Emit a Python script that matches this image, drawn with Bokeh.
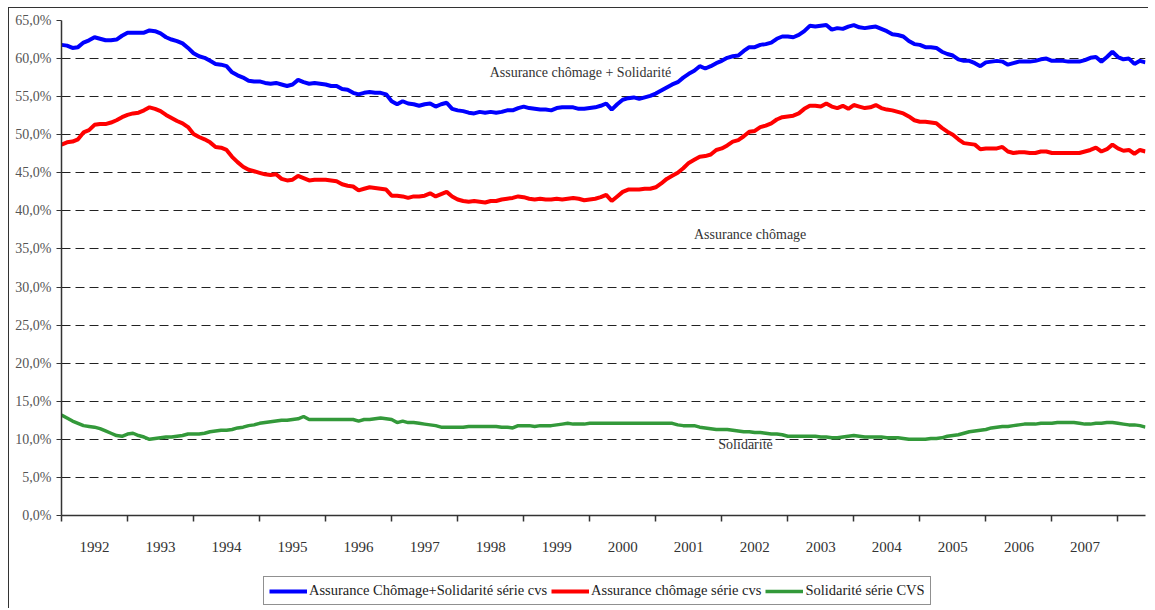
import pandas as pd
from bokeh.plotting import figure
from bokeh.layouts import row, column
from bokeh.models import (Range1d, FixedTicker, CustomJSTickFormatter, Legend,
                          LegendItem, Label, ColumnDataSource, Spacer)
from bokeh.embed import file_html
from bokeh.resources import INLINE

# ---------------- data (monthly, Jan 1992 - Jun 2008) ----------------
months = pd.date_range("1992-01-01", periods=198, freq="MS")

total_cvs = [  # Assurance Chômage + Solidarité série cvs (%)
    61.8, 61.7, 61.4, 61.5, 62.1, 62.4, 62.8, 62.6, 62.4, 62.4, 62.5, 63.0,
    63.4, 63.4, 63.4, 63.4, 63.7, 63.6, 63.3, 62.8, 62.5, 62.3, 62.0, 61.4,
    60.7, 60.3, 60.1, 59.7, 59.3, 59.2, 59.0, 58.2, 57.8, 57.5, 57.1, 57.0,
    57.0, 56.8, 56.7, 56.8, 56.6, 56.4, 56.6, 57.2, 56.9, 56.7, 56.8, 56.7,
    56.6, 56.4, 56.4, 56.0, 55.9, 55.5, 55.3, 55.5, 55.6, 55.5, 55.5, 55.3,
    54.4, 54.0, 54.4, 54.1, 54.0, 53.8, 54.0, 54.1, 53.7, 54.0, 54.2, 53.4,
    53.2, 53.1, 52.9, 52.8, 53.0, 52.9, 53.0, 52.9, 53.0, 53.2, 53.2, 53.5,
    53.7, 53.5, 53.4, 53.3, 53.3, 53.2, 53.5, 53.6, 53.6, 53.6, 53.4, 53.4,
    53.5, 53.6, 53.8, 54.1, 53.3, 54.0, 54.6, 54.8, 54.9, 54.7, 54.9, 55.1,
    55.4, 55.8, 56.2, 56.6, 56.9, 57.5, 58.0, 58.4, 59.0, 58.7, 59.0, 59.4,
    59.7, 60.1, 60.3, 60.4, 61.0, 61.5, 61.5, 61.8, 61.9, 62.1, 62.6, 62.9,
    62.9, 62.8, 63.1, 63.6, 64.3, 64.2, 64.3, 64.4, 63.8, 64.0, 63.9, 64.2,
    64.4, 64.1, 64.0, 64.1, 64.2, 63.9, 63.6, 63.2, 63.1, 62.9, 62.3, 61.9,
    61.8, 61.5, 61.5, 61.4, 60.9, 60.6, 60.4, 59.9, 59.7, 59.7, 59.4, 59.0,
    59.5, 59.6, 59.7, 59.6, 59.2, 59.4, 59.6, 59.6, 59.6, 59.7, 59.9, 60.0,
    59.7, 59.7, 59.7, 59.6, 59.6, 59.6, 59.8, 60.1, 60.2, 59.6, 60.2, 60.9,
    60.2, 59.9, 60.0, 59.3, 59.7, 59.5,
]

ac_cvs = [  # Assurance chômage série cvs (%)
    48.7, 49.0, 49.1, 49.4, 50.3, 50.6, 51.3, 51.4, 51.4, 51.6, 51.9, 52.3,
    52.6, 52.8, 52.9, 53.2, 53.6, 53.4, 53.1, 52.6, 52.2, 51.8, 51.5, 51.0,
    50.1, 49.7, 49.4, 49.0, 48.4, 48.3, 48.0, 47.1, 46.4, 45.8, 45.4, 45.2,
    45.0, 44.8, 44.7, 44.8, 44.2, 44.0, 44.1, 44.6, 44.3, 44.0, 44.1, 44.1,
    44.1, 44.0, 43.9, 43.5, 43.3, 43.2, 42.7, 42.9, 43.1, 43.0, 42.9, 42.8,
    42.0, 42.0, 41.9, 41.7, 41.9, 41.9, 42.0, 42.3, 41.9, 42.2, 42.5, 41.9,
    41.5, 41.3, 41.2, 41.3, 41.2, 41.1, 41.3, 41.3, 41.5, 41.6, 41.7, 41.9,
    41.8, 41.6, 41.5, 41.6, 41.5, 41.5, 41.6, 41.5, 41.6, 41.7, 41.6, 41.4,
    41.5, 41.6, 41.8, 42.1, 41.3, 41.9, 42.5, 42.8, 42.8, 42.8, 42.9, 42.9,
    43.1, 43.6, 44.2, 44.6, 45.0, 45.6, 46.3, 46.7, 47.1, 47.2, 47.4, 48.0,
    48.2, 48.6, 49.1, 49.3, 49.8, 50.4, 50.5, 51.0, 51.2, 51.5, 52.0, 52.3,
    52.4, 52.5, 52.8, 53.4, 53.8, 53.8, 53.7, 54.1, 53.7, 53.5, 53.8, 53.4,
    53.9, 53.7, 53.5, 53.6, 53.9, 53.5, 53.3, 53.2, 53.0, 52.8, 52.4, 51.9,
    51.7, 51.7, 51.6, 51.5, 50.9, 50.4, 50.0, 49.4, 48.9, 48.8, 48.7, 48.1,
    48.2, 48.2, 48.2, 48.4, 47.8, 47.6, 47.7, 47.7, 47.6, 47.6, 47.8, 47.8,
    47.6, 47.6, 47.6, 47.6, 47.6, 47.6, 47.8, 48.0, 48.3, 47.8, 48.1, 48.7,
    48.2, 47.9, 48.0, 47.5, 48.0, 47.8,
]

sol_cvs = [  # Solidarité série CVS (%)
    13.2, 12.8, 12.4, 12.1, 11.8, 11.7, 11.6, 11.4, 11.1, 10.8, 10.5, 10.4,
    10.7, 10.8, 10.5, 10.3, 10.0, 10.1, 10.2, 10.3, 10.3, 10.4, 10.5, 10.7,
    10.7, 10.7, 10.8, 11.0, 11.1, 11.2, 11.2, 11.3, 11.5, 11.6, 11.8, 11.9,
    12.1, 12.2, 12.3, 12.4, 12.5, 12.5, 12.6, 12.7, 13.0, 12.6, 12.6, 12.6,
    12.6, 12.6, 12.6, 12.6, 12.6, 12.6, 12.4, 12.6, 12.6, 12.7, 12.8, 12.7,
    12.6, 12.2, 12.4, 12.2, 12.2, 12.1, 12.0, 11.9, 11.8, 11.6, 11.6, 11.6,
    11.6, 11.6, 11.7, 11.7, 11.7, 11.7, 11.7, 11.7, 11.6, 11.6, 11.5, 11.8,
    11.8, 11.8, 11.7, 11.8, 11.8, 11.8, 11.9, 12.0, 12.1, 12.0, 12.0, 12.0,
    12.1, 12.1, 12.1, 12.1, 12.1, 12.1, 12.1, 12.1, 12.1, 12.1, 12.1, 12.1,
    12.1, 12.1, 12.1, 12.1, 11.9, 11.8, 11.8, 11.8, 11.6, 11.5, 11.4, 11.3,
    11.3, 11.3, 11.2, 11.1, 11.0, 11.0, 10.9, 10.9, 10.8, 10.7, 10.7, 10.6,
    10.4, 10.4, 10.4, 10.4, 10.4, 10.4, 10.3, 10.3, 10.2, 10.2, 10.3, 10.4,
    10.5, 10.4, 10.3, 10.3, 10.3, 10.3, 10.2, 10.2, 10.2, 10.1, 10.0, 10.0,
    10.0, 10.0, 10.1, 10.1, 10.2, 10.4, 10.5, 10.6, 10.8, 11.0, 11.1, 11.2,
    11.3, 11.5, 11.6, 11.7, 11.7, 11.8, 11.9, 12.0, 12.0, 12.0, 12.1, 12.1,
    12.1, 12.2, 12.2, 12.2, 12.2, 12.1, 12.0, 12.0, 12.1, 12.1, 12.2, 12.2,
    12.1, 12.0, 11.9, 11.9, 11.8, 11.6,
]

year_labels = list(range(1992, 2008))
y_ticks = list(range(0, 70, 5))
series_names = ["Assurance Chômage+Solidarité série cvs",
                "Assurance chômage série cvs",
                "Solidarité série CVS"]
series_colors = ["#0000FF", "#FF0000", "#33993A"]
series_widths = [4, 4, 3.5]
annotations = [("Assurance chômage + Solidarité", 1999.86, 58.2),
               ("Assurance chômage", 2002.43, 36.9),
               ("Solidarité", 2002.36, 9.3)]

# ---------------- main figure ----------------
xs = [d.year + (d.month - 1) / 12 for d in months]
src = ColumnDataSource(dict(x=xs, total=total_cvs, ac=ac_cvs, sol=sol_cvs))

SERIF = "Liberation Serif"
W = 1139

p = figure(width=W, height=568, output_backend="svg", toolbar_location=None,
           x_range=Range1d(1992, 1992 + len(months) / 12 - 1 / 12 + 0.001),
           y_range=Range1d(0, 65),
           min_border_left=52, min_border_right=3, min_border_top=12,
           min_border_bottom=61)
p.outline_line_color = None
p.background_fill_color = "white"
p.border_fill_color = "white"

# y axis
p.yaxis.ticker = FixedTicker(ticks=y_ticks)
p.yaxis.formatter = CustomJSTickFormatter(
    code="return tick.toFixed(1).replace('.', ',') + '%';")
p.yaxis.major_tick_out = 5
p.yaxis.major_tick_in = 0
p.yaxis.minor_tick_line_color = None
p.yaxis.axis_line_color = "#333333"
p.yaxis.axis_line_width = 1.5
p.yaxis.major_tick_line_color = "#333333"
p.yaxis.major_label_text_font = SERIF
p.yaxis.major_label_text_font_size = "14px"
p.yaxis.major_label_text_color = "#555555"
p.yaxis.major_label_standoff = 5

# x axis: labels centred in each year, tick marks at year boundaries
p.xaxis.ticker = FixedTicker(ticks=[y + 0.5 for y in year_labels],
                             minor_ticks=list(range(1992, 2009)))
p.xaxis.formatter = CustomJSTickFormatter(code="return Math.floor(tick).toString();")
p.xaxis.major_tick_out = 0
p.xaxis.major_tick_in = 0
p.xaxis.minor_tick_out = 6
p.xaxis.minor_tick_in = 0
p.xaxis.minor_tick_line_color = "#333333"
p.xaxis.minor_tick_line_width = 1.5
p.xaxis.axis_line_color = "#333333"
p.xaxis.axis_line_width = 1.5
p.xaxis.major_label_text_font = SERIF
p.xaxis.major_label_text_font_size = "15px"
p.xaxis.major_label_text_color = "#333333"
p.xaxis.major_label_standoff = 20

# grid
p.xgrid.visible = False
p.ygrid.ticker = FixedTicker(ticks=y_ticks[1:])
p.ygrid.grid_line_color = "#222222"
p.ygrid.grid_line_dash = "9 5"
p.ygrid.grid_line_width = 1

# lines
for col, c, w in zip(["total", "ac", "sol"], series_colors, series_widths):
    p.line("x", col, source=src, line_color=c, line_width=w)

for txt, ax, ay in annotations:
    p.add_layout(Label(x=ax, y=ay, text=txt, text_font=SERIF,
                       text_font_size="14px", text_color="#333333",
                       text_align="center", text_baseline="middle"))

# ---------------- legend strip (own small figure) ----------------
lf = figure(width=W, height=32, output_backend="svg", toolbar_location=None,
            x_range=Range1d(0, 1), y_range=Range1d(0, 1), min_border=0)
lf.axis.visible = False
lf.grid.visible = False
lf.outline_line_color = None
lf.background_fill_color = "white"
lf.border_fill_color = "white"
items = []
for name, c, w in zip(series_names, series_colors, series_widths):
    # legend swatches only: the segment lies outside the visible range
    r = lf.line(x=[10, 11], y=[10, 11], line_color=c, line_width=w)
    items.append(LegendItem(label=name, renderers=[r]))

legend = Legend(items=items, orientation="horizontal", location=(202, 3))
legend.border_line_color = "#222222"
legend.border_line_width = 1.5
legend.background_fill_color = "white"
legend.label_text_font = SERIF
legend.label_text_font_size = "14.5px"
legend.label_text_color = "#222222"
legend.glyph_width = 38
legend.glyph_height = 16
legend.label_height = 16
legend.label_standoff = 2
legend.spacing = 4
legend.padding = 5
legend.margin = 0
lf.add_layout(legend, "center")

inner = column(p, lf)
inner.styles = {"border-left": "1px solid #333333", "border-top": "1px solid #333333"}
layout = row(Spacer(width=8), column(Spacer(height=7), inner))
open("out.html", "w").write(file_html(layout, INLINE))
